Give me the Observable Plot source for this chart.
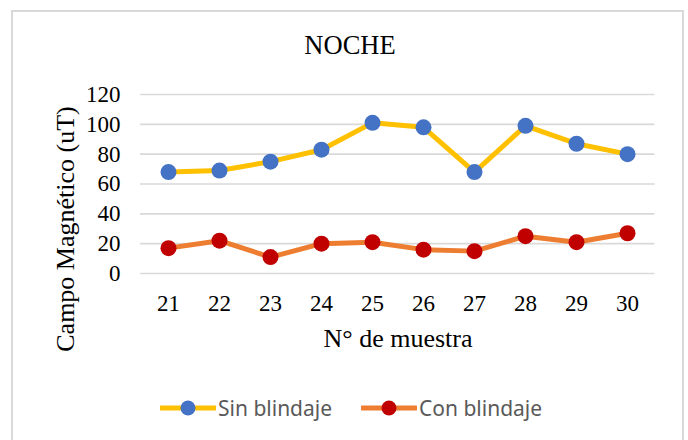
<!DOCTYPE html>
<html>
<head>
<meta charset="utf-8">
<script src="https://cdn.jsdelivr.net/npm/d3@7"></script>
<script src="https://cdn.jsdelivr.net/npm/@observablehq/plot@0.6"></script>
<style>
  html, body { margin: 0; padding: 0; background: #fff; }
  #page { position: relative; width: 688px; height: 440px; overflow: hidden; background: #fff; }
  #frame { position: absolute; left: 11px; top: 10px; width: 673px; height: 460px; border: 2px solid #d9d9d9; box-sizing: border-box; }
  #chart { position: absolute; left: 0; top: 0; }
  .serif { font-family: "Liberation Serif", "Times New Roman", serif; color: #000; line-height: 1; white-space: nowrap; position: absolute; }
  #title { font-size: 26.5px; left: 350px; top: 32px; transform: translateX(-50%); }
  #xlabel { font-size: 26px; left: 398px; top: 326px; transform: translateX(-50%); }
  #ylabel { font-size: 26px; left: 65.5px; top: 228.5px; transform: translate(-50%, -50%) rotate(-90deg); }
  #legend { position: absolute; top: 398px; left: 0; width: 688px; height: 20px; font-family: "Noto Sans", sans-serif; font-size: 21px; color: #595959; }
  .item { position: absolute; top: 0; height: 20px; display: flex; align-items: center; gap: 2px; line-height: 1; white-space: nowrap; }
</style>
</head>
<body>
<div id="page">
  <div id="frame"></div>
  <div id="chart"></div>
  <div id="title" class="serif">NOCHE</div>
  <div id="ylabel" class="serif">Campo Magnético (uT)</div>
  <div id="xlabel" class="serif">N° de muestra</div>
  <div id="legend"></div>
</div>
<script>
const muestras = ["21", "22", "23", "24", "25", "26", "27", "28", "29", "30"];
const sinBlindaje = [68, 69, 75, 83, 101, 98, 68, 99, 87, 80];
const conBlindaje = [17, 22, 11, 20, 21, 16, 15, 25, 21, 27];
const yTicks = [0, 20, 40, 60, 80, 100, 120];
const seriesNames = ["Sin blindaje", "Con blindaje"];
const lineColors = ["#FFC000", "#ED7D31"];
const dotColors = ["#4472C4", "#C00000"];

const sinData = muestras.map((m, i) => ({muestra: m, valor: sinBlindaje[i]}));
const conData = muestras.map((m, i) => ({muestra: m, valor: conBlindaje[i]}));

const chart = Plot.plot({
  width: 688,
  height: 330,
  marginLeft: 140,
  marginRight: 33.5,
  marginTop: 94,
  marginBottom: 57,
  style: {fontFamily: "'Liberation Serif', 'Times New Roman', serif", fontSize: "23px", color: "#000", background: "transparent"},
  x: {type: "point", domain: muestras, padding: 0.5, label: null},
  y: {domain: [0, 120], label: null},
  marks: [
    Plot.ruleY(yTicks, {stroke: "#d9d9d9", strokeWidth: 1.6}),
    Plot.axisY({ticks: yTicks, tickSize: 0, tickPadding: 20, label: null, fill: "#000"}),
    Plot.axisX({tickSize: 0, tickPadding: 21, label: null, fill: "#000"}),
    Plot.line(sinData, {x: "muestra", y: "valor", stroke: lineColors[0], strokeWidth: 5}),
    Plot.line(conData, {x: "muestra", y: "valor", stroke: lineColors[1], strokeWidth: 5}),
    Plot.dot(sinData, {x: "muestra", y: "valor", r: 8, fill: dotColors[0]}),
    Plot.dot(conData, {x: "muestra", y: "valor", r: 8, fill: dotColors[1]})
  ]
});
document.getElementById("chart").appendChild(chart);

// Legend
const legend = document.getElementById("legend");
const lefts = [160, 361];
seriesNames.forEach((name, i) => {
  const item = document.createElement("div");
  item.className = "item";
  item.style.left = lefts[i] + "px";
  item.innerHTML =
    `<svg width="56" height="20" style="display:block">` +
    `<line x1="1" y1="10" x2="55" y2="10" stroke="${lineColors[i]}" stroke-width="5" stroke-linecap="round"/>` +
    `<circle cx="28" cy="10" r="7.5" fill="${dotColors[i]}"/></svg>` +
    `<span>${name}</span>`;
  legend.appendChild(item);
});
</script>
</body>
</html>
